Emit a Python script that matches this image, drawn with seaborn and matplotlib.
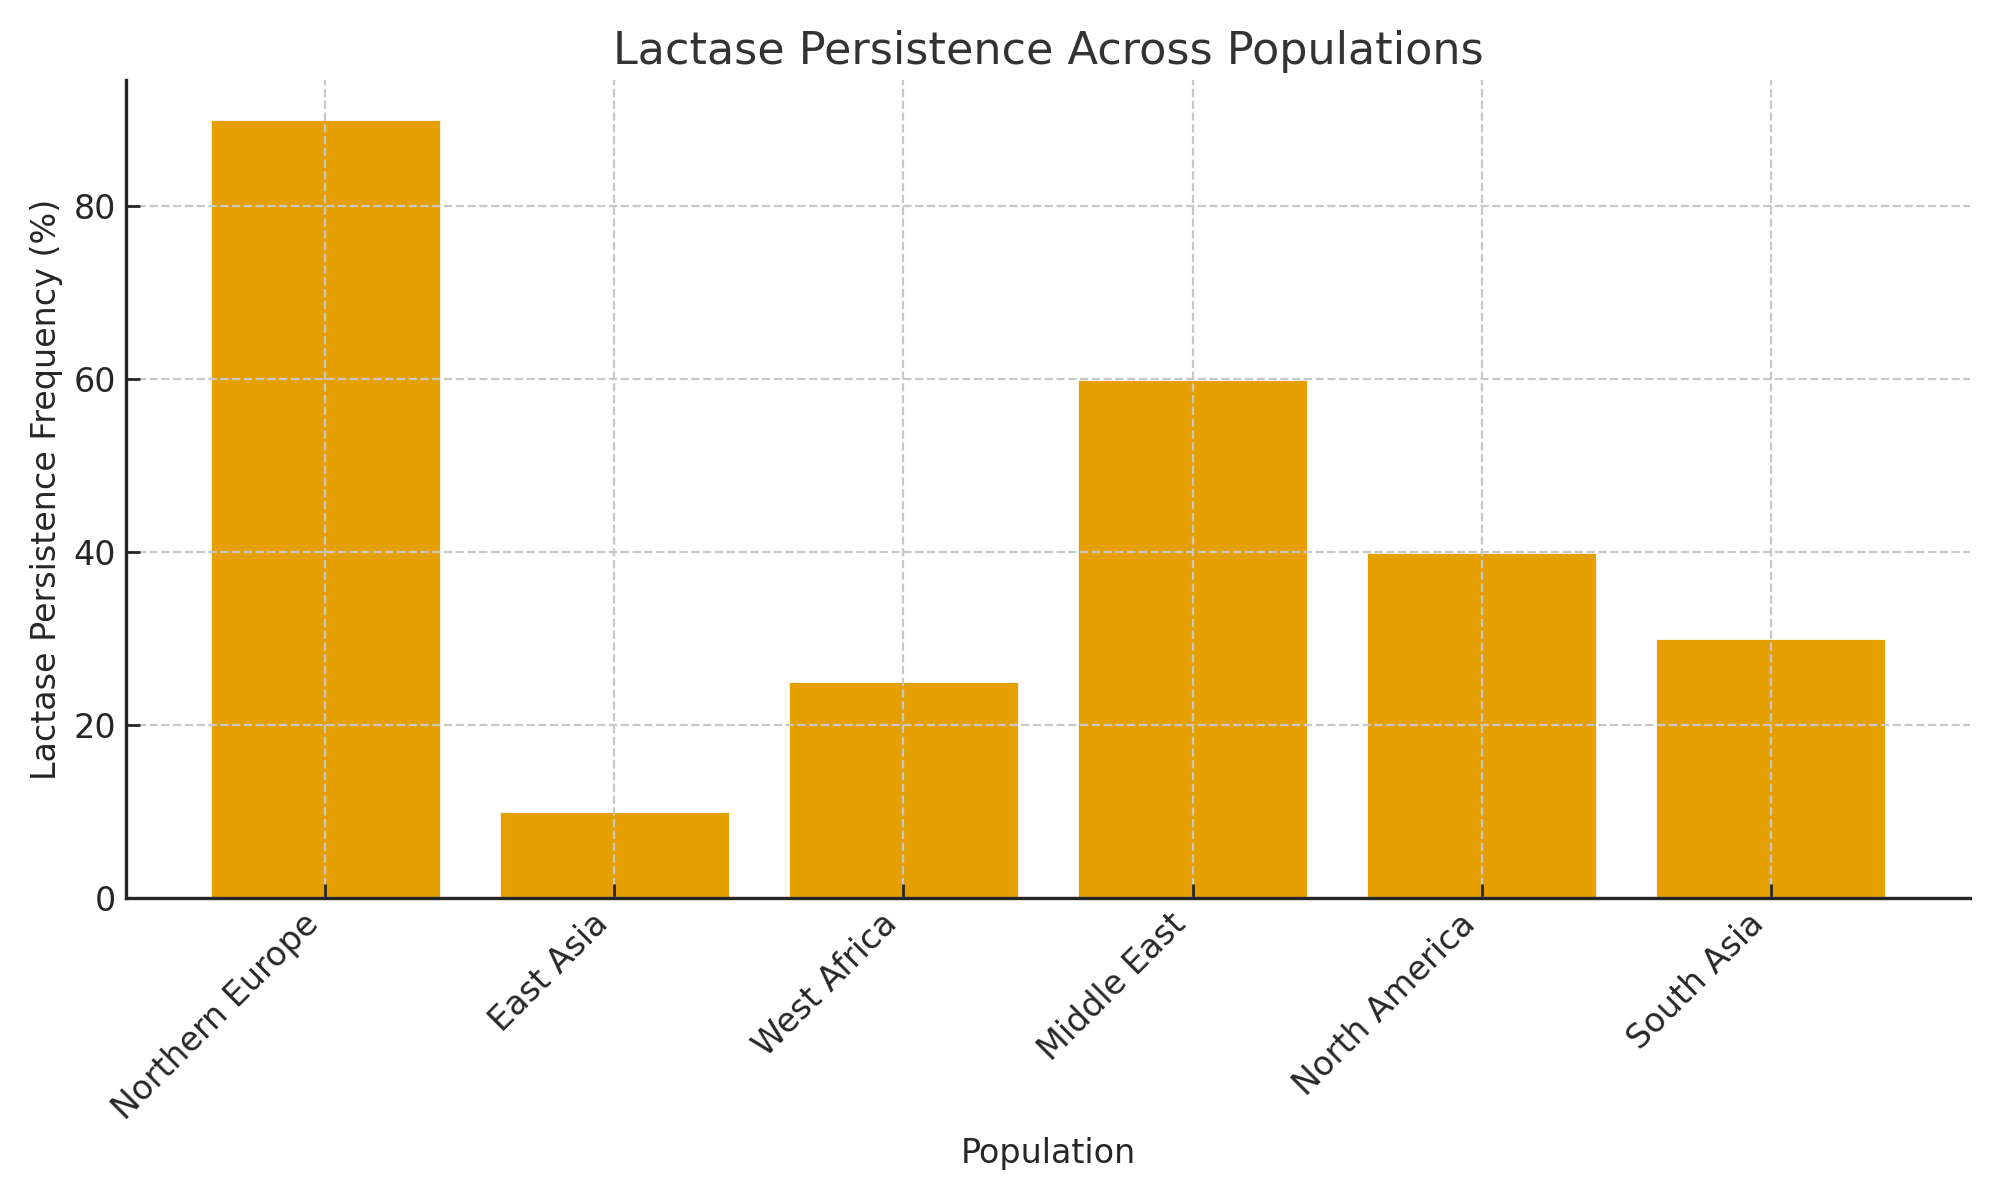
import matplotlib
matplotlib.use("Agg")
import matplotlib.pyplot as plt
import seaborn as sns
import pandas as pd

populations = ["Northern Europe", "East Asia", "West Africa", "Middle East", "North America", "South Asia"]
frequencies = [90, 10, 25, 60, 40, 30]

df = pd.DataFrame({"Population": populations, "Frequency": frequencies})

sns.set_theme(style="white")
plt.rcParams["font.family"] = ["DejaVu Sans"]

fig, ax = plt.subplots(figsize=(10, 6), dpi=200)
sns.barplot(data=df, x="Population", y="Frequency", color="#E69F00", saturation=1,
            width=0.8, ax=ax)
ax.set_xlim(-0.69, 5.69)
ax.set_ylim(0, 94.5)
ax.set_yticks([0, 20, 40, 60, 80])
for b in ax.patches:
    b.set_zorder(1)
ax.grid(True, linestyle="--", color="#c8c8c8", linewidth=0.8, zorder=1.5)
ax.set_axisbelow(False)
for gl in ax.get_xgridlines() + ax.get_ygridlines():
    gl.set_zorder(1.5)
ax.spines["top"].set_visible(False)
ax.spines["right"].set_visible(False)
for s in ["left", "bottom"]:
    ax.spines[s].set_color("#262626")
    ax.spines[s].set_linewidth(1.2)
    ax.spines[s].set_zorder(3)
ax.tick_params(axis="both", direction="in", length=5, width=1, color="#262626",
               labelsize=12, labelcolor="#262626", left=True, bottom=True)
plt.setp(ax.get_xticklabels(), rotation=45, ha="right")
ax.set_title("Lactase Persistence Across Populations", fontsize=16, color="#333333")
ax.set_xlabel("Population", fontsize=12, color="#262626")
ax.set_ylabel("Lactase Persistence Frequency (%)", fontsize=12, color="#262626")
fig.subplots_adjust(left=0.063, right=0.985, top=0.933, bottom=0.252)
fig.savefig("out.png", dpi=200)
